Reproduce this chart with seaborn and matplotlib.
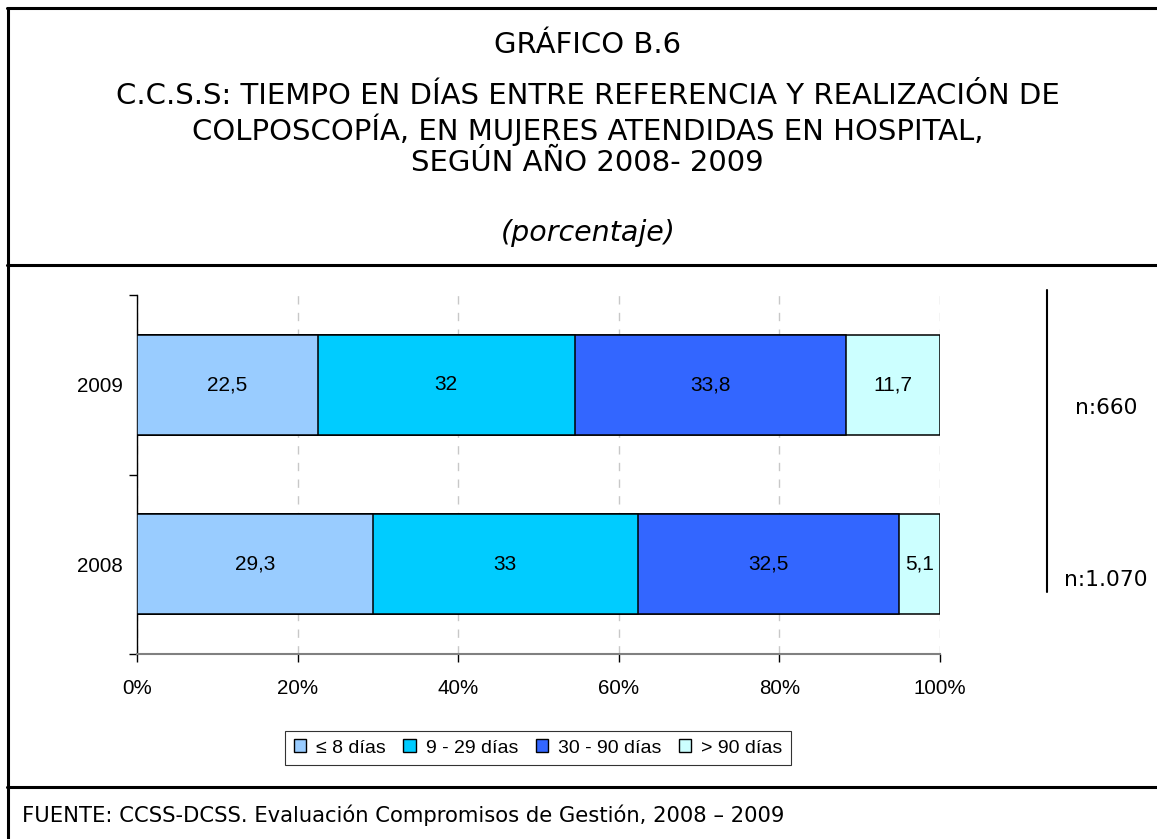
import numpy as np
import pandas as pd
import seaborn as sns
import matplotlib.pyplot as plt
from matplotlib.lines import Line2D
from matplotlib.patches import Patch

# --- data ---
years = ["2009", "2008"]
categories = ["≤ 8 días", "9 - 29 días", "30 - 90 días", "> 90 días"]
v2009 = [22.5, 32, 33.8, 11.7]
v2008 = [29.3, 33, 32.5, 5.1]
n_labels = ["n:660", "n:1.070"]
colors = ["#99CCFF", "#00CCFF", "#3366FF", "#CCFFFF"]

# --- long table, 100% stacked ---
rows = []
for yr, vals in zip(years, [v2009, v2008]):
    tot = sum(vals)
    cum = np.cumsum(vals) / tot * 100
    for cat, v, c in zip(categories, vals, cum):
        rows.append({"year": yr, "cat": cat, "value": v, "share": v / tot * 100, "cum": c})
df = pd.DataFrame(rows)

sns.set_theme(style="white")
plt.rcParams["font.family"] = ["Liberation Sans", "DejaVu Sans"]
plt.rcParams["text.color"] = "black"
plt.rcParams["xtick.color"] = "black"
plt.rcParams["ytick.color"] = "black"

fig = plt.figure(figsize=(11.57, 8.39), dpi=100)
ax = fig.add_axes([137 / 1157, 1 - 654 / 839, (940 - 137) / 1157, (654 - 295) / 839])

# draw cumulative totals back to front so they look stacked
for cat, col in reversed(list(zip(categories, colors))):
    sub = df[df.cat == cat]
    sns.barplot(data=sub, x="cum", y="year", order=years, color=col,
                width=0.555, edgecolor="black", linewidth=1.1,
                saturation=1, ax=ax, zorder=3)

# value labels in the middle of each segment
for _, r in df.iterrows():
    yi = years.index(r["year"])
    ax.text(r["cum"] - r["share"] / 2, yi, f"{r['value']:g}".replace(".", ","),
            ha="center", va="center", fontsize=15, color="black", zorder=5)

ax.set_xlim(0, 100)
ax.set_ylim(1.5, -0.5)
ax.set_xticks([0, 20, 40, 60, 80, 100])
ax.set_xticklabels([f"{t}%" for t in range(0, 101, 20)], fontsize=14.8)
ax.set_yticks([0, 1])
ax.set_yticklabels(years, fontsize=14.8)
ax.set_yticks([-0.5, 0.5, 1.5], minor=True)
ax.tick_params(axis="y", which="major", length=0, pad=14)
ax.tick_params(axis="y", which="minor", length=6, width=1, color="black", left=True)
ax.tick_params(axis="x", length=6, width=1, color="black", bottom=True, pad=12)
ax.set_xlabel("")
ax.set_ylabel("")
ax.grid(axis="x", linestyle=(0, (6, 6)), color="#c8c8c8", linewidth=1, zorder=0)
ax.set_axisbelow(True)
for s in ["top", "right"]:
    ax.spines[s].set_visible(False)
ax.spines["left"].set_color("black")
ax.spines["left"].set_linewidth(1)
ax.spines["bottom"].set_color("#808080")
ax.spines["bottom"].set_linewidth(1.5)
for lab in ax.get_yticklabels():
    lab.set_x(5 / 803)

# legend
handles = [Patch(facecolor=c, edgecolor="black", linewidth=1) for c in colors]
leg = fig.legend(handles, categories, loc="center", bbox_to_anchor=(538 / 1157, 1 - 748 / 839),
                 ncol=4, frameon=True, fancybox=False, fontsize=14, handlelength=0.65,
                 handleheight=0.65, handletextpad=0.5, columnspacing=0.9, borderpad=0.45)
leg.get_frame().set_edgecolor("black")
leg.get_frame().set_linewidth(0.8)

# n labels and separator line on the right
fig.add_artist(Line2D([1047 / 1157] * 2, [1 - 290 / 839, 1 - 592 / 839], color="black", lw=1.5))
fig.text(1106 / 1157, 1 - 408 / 839, n_labels[0], ha="center", va="center",
         fontsize=15.7, family="DejaVu Sans")
fig.text(1106 / 1157, 1 - 580 / 839, n_labels[1], ha="center", va="center",
         fontsize=15.7, family="DejaVu Sans")

# title block
tx = 0.508
tfs = 21
fig.text(tx, 1 - 45 / 839, "GRÁFICO B.6", ha="center", va="center", fontsize=tfs, family="DejaVu Sans")
fig.text(tx, 1 - 96 / 839, "C.C.S.S: TIEMPO EN DÍAS ENTRE REFERENCIA Y REALIZACIÓN DE",
         ha="center", va="center", fontsize=tfs, family="DejaVu Sans")
fig.text(tx, 1 - 130 / 839, "COLPOSCOPÍA, EN MUJERES ATENDIDAS EN HOSPITAL,",
         ha="center", va="center", fontsize=tfs, family="DejaVu Sans")
fig.text(tx, 1 - 163 / 839, "SEGÚN AÑO 2008- 2009", ha="center", va="center",
         fontsize=tfs, family="DejaVu Sans")
fig.text(tx, 1 - 233 / 839, "(porcentaje)", ha="center", va="center", fontsize=20.5,
         style="italic", family="DejaVu Sans")

# footer
fig.text(22 / 1157, 1 - 815 / 839, "FUENTE: CCSS-DCSS. Evaluación Compromisos de Gestión, 2008 – 2009",
         ha="left", va="center", fontsize=15.2, family="DejaVu Sans")

# frame lines
lw = 2.2
fig.add_artist(Line2D([7.5 / 1157] * 2, [0, 1 - 8 / 839], color="black", lw=lw))
for yy in [8, 265, 787]:
    fig.add_artist(Line2D([6.5 / 1157, 1], [1 - yy / 839] * 2, color="black", lw=lw))

fig.savefig("out.png", dpi=100)
plt.close()
